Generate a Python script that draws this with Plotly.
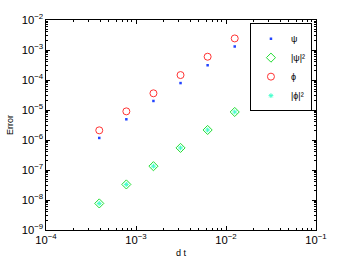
import plotly.graph_objects as go

dt = [0.000390625, 0.00078125, 0.0015625, 0.003125, 0.00625, 0.0125]
err_psi = [1.17e-6, 4.9e-6, 2.0e-5, 7.9e-5, 3.1e-4, 1.31e-3]
err_psi2 = [7.7e-9, 3.3e-8, 1.34e-7, 5.45e-7, 2.16e-6, 8.6e-6]
err_phi = [2.1e-6, 9.0e-6, 3.6e-5, 1.46e-4, 5.97e-4, 2.43e-3]
err_phi2 = [7.7e-9, 3.3e-8, 1.34e-7, 5.45e-7, 2.16e-6, 8.6e-6]
names = ["ψ", "|ψ|²", "ϕ", "|ϕ|²"]

fig = go.Figure()
fig.add_trace(go.Scatter(x=dt, y=err_psi, mode="markers", name=names[0],
                         marker=dict(symbol="square", size=2.5, color="#2244ff",
                                     line=dict(width=0))))
fig.add_trace(go.Scatter(x=dt, y=err_psi2, mode="markers", name=names[1],
                         marker=dict(symbol="diamond-open", size=7, color="#22dd33",
                                     line=dict(width=1))))
fig.add_trace(go.Scatter(x=dt, y=err_phi, mode="markers", name=names[2],
                         marker=dict(symbol="circle-open", size=7, color="#ff3333",
                                     line=dict(width=1))))
fig.add_trace(go.Scatter(x=dt, y=err_phi2, mode="markers", name=names[3],
                         marker=dict(symbol="asterisk-open", size=4, color="#44ffcc",
                                     line=dict(width=1, color="#44ffcc"))))

axis_common = dict(type="log", showgrid=False, zeroline=False, showline=True,
                   linecolor="black", linewidth=1, mirror="ticks", ticks="inside",
                   ticklen=4, tickcolor="black", exponentformat="power", automargin=False,
                   dtick=1, tickfont=dict(family="Liberation Sans", size=9, color="black"),
                   minor=dict(ticks="inside", ticklen=2, tickcolor="black", showgrid=False))

fig.update_layout(
    width=349, height=259,
    margin=dict(l=46, r=33, t=20, b=29),
    paper_bgcolor="white", plot_bgcolor="white",
    font=dict(family="Liberation Sans", size=9, color="black"),
    xaxis=dict(range=[-4, -1], title=dict(text="d t", standoff=4, font=dict(size=9)), **axis_common),
    yaxis=dict(range=[-9, -2], title=dict(text="Error", standoff=6, font=dict(size=9)), **axis_common),
    legend=dict(x=0.985, y=0.985, xanchor="right", yanchor="top",
                bordercolor="black", borderwidth=1, bgcolor="white",
                font=dict(size=9), itemwidth=30, tracegroupgap=0),
    showlegend=True,
)

fig.write_html("out.html", config={"displayModeBar": False},
               post_script="document.body.style.margin='0';")
